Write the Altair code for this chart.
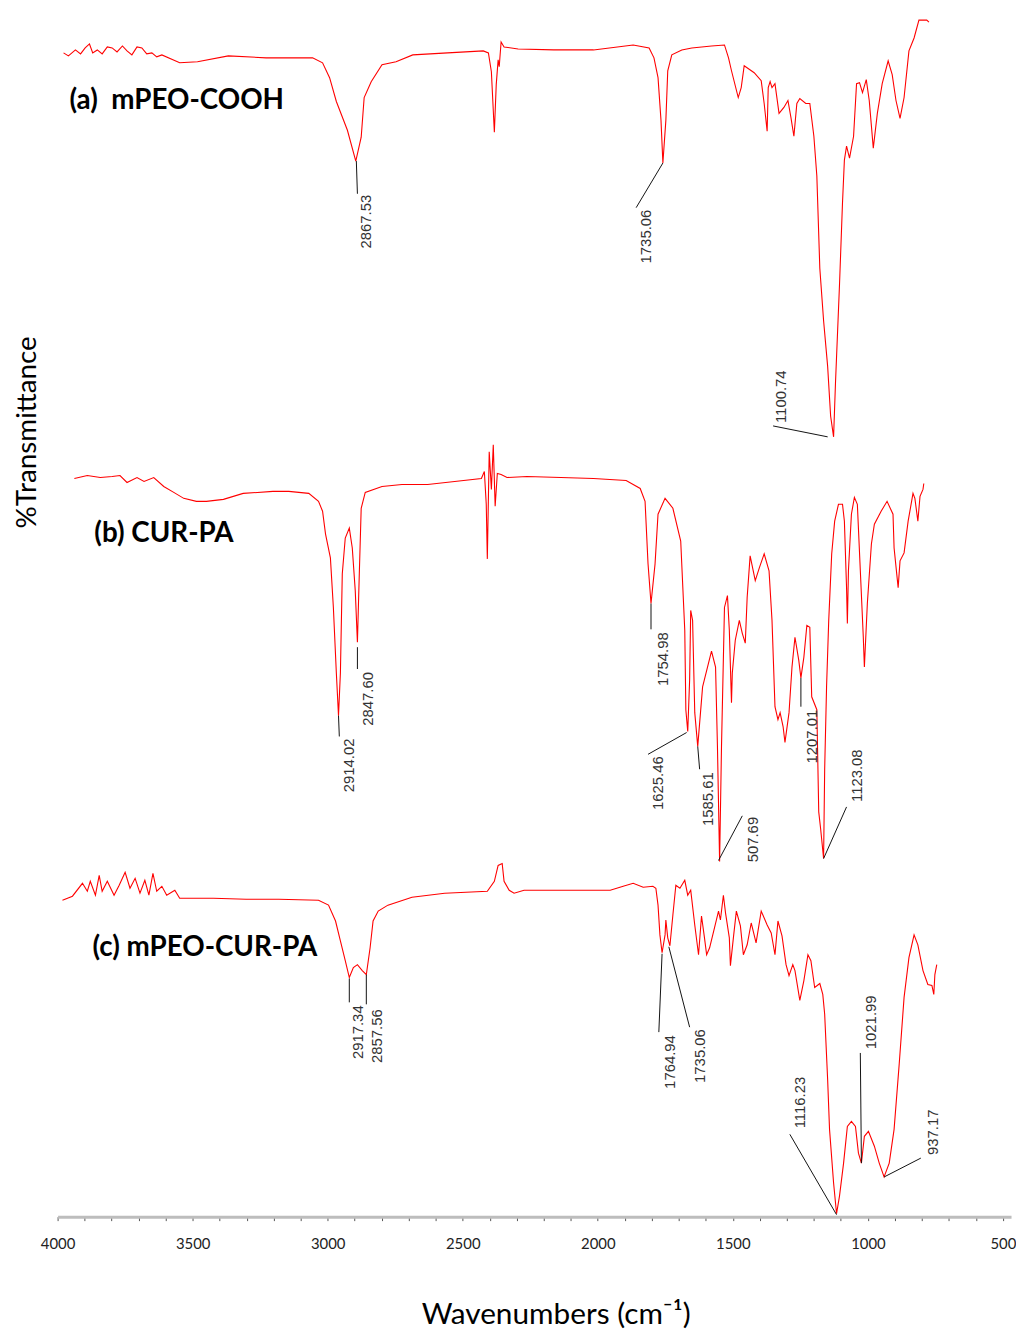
import altair as alt
import pandas as pd

# ---- spectrum (a) mPEO-COOH ----
A_WN = [3978, 3960, 3934, 3915, 3898, 3882, 3870, 3853, 3835, 3816, 3798, 3780, 3760, 3743, 3725, 3706, 3688, 3670, 3651, 3633,
        3614, 3548, 3482, 3368, 3228, 3056, 3019, 2993, 2968, 2927, 2896, 2876,
        2865, 2839, 2799, 2747, 2685, 2556, 2424, 2405, 2394, 2383, 2376, 2369, 2365, 2358, 2347, 2295, 2163, 2016, 1869, 1810,
        1792, 1777, 1766, 1759, 1748, 1741, 1726, 1689, 1652, 1579, 1531, 1516, 1505, 1480, 1469, 1458, 1421, 1395, 1384, 1373,
        1369, 1362, 1355, 1344, 1329, 1311, 1296, 1285, 1274, 1263, 1252, 1230, 1215, 1200, 1189, 1178, 1164, 1149, 1138, 1127,
        1120, 1105, 1094, 1087, 1079, 1068, 1053, 1042, 1031, 1020, 1006, 995, 980, 965, 947, 925, 910, 896, 881, 866,
        848, 829, 811, 782, 774]
A_T = [117.3, 117.0, 117.6, 117.2, 117.8, 118.2, 117.3, 117.6, 117.2, 117.9, 117.8, 117.4, 118.0, 117.5, 117.1, 117.9, 117.8, 117.2, 117.3, 116.9,
       117.1, 116.3, 116.4, 117.0, 116.8, 116.8, 116.3, 114.8, 112.4, 109.5, 106.4, 108.8,
       112.8, 114.4, 116.1, 116.4, 117.1, 117.3, 117.5, 117.3, 115.4, 109.3, 114.1, 116.6, 115.9, 118.4, 117.9, 117.7, 117.6, 117.6, 118.1, 117.8,
       116.8, 114.8, 110.5, 106.2, 110.5, 115.5, 117.1, 117.6, 117.8, 118.0, 118.1, 116.8, 115.5, 112.8, 113.8, 116.0, 115.3, 114.5, 112.2, 109.4,
       113.8, 114.4, 113.8, 114.2, 111.2, 111.8, 112.5, 110.8, 108.9, 112.2, 112.7, 112.2, 112.2, 108.9, 104.9, 95.6, 90.3, 85.7, 80.7, 78.6,
       84.0, 94.0, 102.2, 106.5, 107.9, 106.7, 108.9, 114.2, 114.3, 113.3, 114.6, 112.5, 107.7, 111.2, 114.2, 116.5, 115.1, 112.5, 110.7, 112.8,
       117.5, 118.8, 120.6, 120.6, 120.4]

# ---- spectrum (b) CUR-PA ----
B_WN = [3938, 3890, 3842, 3798, 3769, 3743, 3706, 3680, 3644, 3607, 3570, 3533, 3486, 3449, 3386, 3313, 3203, 3144, 3070, 3034,
        3019, 3008, 2990, 2979, 2968, 2960, 2953, 2946, 2935, 2920, 2909, 2898, 2890, 2883, 2876, 2861, 2799, 2725, 2630, 2530,
        2431, 2420, 2413, 2409, 2402, 2394, 2387, 2380, 2372, 2358, 2336, 2262, 2137, 2016, 1895, 1843, 1825, 1814, 1803, 1788,
        1777, 1751, 1722, 1693, 1678, 1674, 1667, 1660, 1656, 1649, 1641, 1630, 1612, 1579, 1564, 1557, 1549, 1542, 1531, 1520,
        1513, 1505, 1502, 1491, 1476, 1465, 1454, 1447, 1436, 1417, 1402, 1384, 1366, 1355, 1344, 1333, 1325, 1314, 1307, 1292,
        1281, 1270, 1256, 1248, 1237, 1226, 1215, 1208, 1189, 1182, 1175, 1164, 1160, 1153, 1145, 1134, 1123, 1109, 1094, 1087,
        1079, 1076, 1072, 1061, 1050, 1039, 1028, 1017, 1013, 1002, 987, 976, 951, 929, 907, 903, 888, 881, 866, 851,
        833, 826, 815, 807, 796, 793]
B_T = [74.4, 74.7, 74.5, 74.6, 74.7, 74.0, 74.5, 74.1, 74.5, 73.6, 73.0, 72.4, 72.1, 72.1, 72.3, 72.9, 73.1, 73.1, 72.9, 72.1,
       71.1, 68.8, 66.4, 61.4, 54.8, 50.5, 54.8, 64.8, 68.4, 69.4, 67.4, 63.1, 57.9, 64.8, 71.4, 73.0, 73.6, 73.8, 73.8, 74.1,
       74.4, 75.1, 71.8, 66.3, 77.1, 73.3, 77.8, 71.6, 74.9, 74.8, 74.5, 74.6, 74.5, 74.4, 74.2, 73.4, 72.1, 65.8, 61.8, 65.8,
       70.8, 72.4, 71.4, 68.1, 59.1, 51.1, 48.9, 54.1, 61.1, 60.1, 50.8, 47.4, 53.4, 57.0, 55.4, 47.4, 35.8, 47.4, 61.4, 62.6,
       59.1, 51.8, 54.8, 58.1, 60.1, 58.8, 57.8, 62.4, 66.6, 64.1, 65.4, 66.8, 65.1, 60.1, 51.4, 50.1, 50.8, 49.4, 47.8, 50.8,
       55.4, 58.4, 56.1, 54.3, 56.4, 59.6, 59.4, 52.4, 51.1, 40.8, 39.1, 36.1, 45.1, 53.4, 60.1, 66.8, 70.1, 71.8, 71.8, 70.1,
       63.4, 59.8, 65.1, 70.8, 72.5, 71.8, 65.1, 58.4, 55.4, 61.8, 67.8, 69.8, 71.1, 72.1, 70.8, 67.4, 63.4, 66.1, 66.9, 70.1,
       72.9, 72.4, 70.1, 72.6, 73.3, 73.9]

# ---- spectrum (c) mPEO-CUR-PA ----
C_WN = [3982, 3945, 3908, 3890, 3879, 3860, 3846, 3835, 3816, 3791, 3772, 3750, 3732, 3713, 3695, 3677, 3662, 3647, 3633, 3614,
        3596, 3566, 3548, 3423, 3302, 3181, 3034, 2997, 2971, 2953, 2935, 2920, 2905, 2890, 2872, 2857, 2843, 2832, 2813, 2777,
        2688, 2567, 2409, 2383, 2369, 2354, 2347, 2328, 2310, 2273, 2200, 1954, 1906, 1869, 1832, 1796, 1785, 1777, 1770, 1762,
        1751, 1748, 1741, 1733, 1722, 1711, 1696, 1678, 1667, 1656, 1641, 1627, 1616, 1605, 1597, 1586, 1568, 1553, 1546, 1535,
        1527, 1513, 1509, 1498, 1487, 1472, 1461, 1447, 1432, 1414, 1395, 1373, 1358, 1344, 1333, 1318, 1303, 1292, 1278, 1270,
        1252, 1237, 1222, 1211, 1197, 1178, 1167, 1160, 1149, 1142, 1127, 1116, 1105, 1090, 1076, 1061, 1046, 1035, 1024, 1013,
        998, 976, 958, 940, 921, 903, 884, 866, 848, 829, 815, 796, 778, 763, 756, 752, 745]
C_T = [31.9, 32.3, 33.6, 32.8, 33.8, 32.4, 34.4, 32.8, 33.8, 32.4, 33.4, 34.7, 33.1, 34.1, 32.6, 33.9, 32.4, 34.6, 32.8, 33.3,
       32.4, 32.9, 32.1, 32.1, 32.0, 32.0, 31.9, 31.4, 29.8, 27.8, 25.8, 24.1, 25.1, 25.4, 24.8, 24.4, 27.1, 29.8, 30.8, 31.4,
       32.2, 32.6, 32.8, 33.8, 35.4, 35.6, 33.8, 32.9, 32.6, 32.9, 32.9, 32.9, 33.3, 33.6, 33.2, 33.3, 33.1, 31.4, 28.4, 26.6,
       28.4, 29.9, 28.1, 27.3, 30.4, 33.4, 33.1, 33.9, 32.4, 32.9, 29.4, 26.4, 30.3, 28.1, 26.4, 27.1, 29.1, 30.8, 29.9, 32.4,
       30.6, 28.1, 25.3, 28.1, 30.8, 29.3, 26.4, 27.4, 29.6, 27.6, 30.8, 29.4, 28.6, 26.4, 29.8, 28.3, 25.4, 24.3, 25.4, 24.8,
       21.8, 23.8, 26.4, 25.8, 23.1, 23.5, 22.4, 20.4, 13.8, 8.8, 3.4, 0.3, 2.1, 5.4, 9.1, 9.6, 9.1, 6.4, 5.4, 8.1,
       8.6, 7.1, 5.4, 4.0, 5.4, 8.8, 15.4, 22.1, 26.1, 28.4, 27.4, 24.8, 23.4, 23.3, 22.4, 24.4, 25.4]

# ---- peak annotations ----
ANN_LABEL = ["2867.53", "1735.06", "1100.74", "2914.02", "2847.60", "1754.98", "1625.46", "1585.61", "507.69",
             "1207.01", "1123.08", "2917.34", "2857.56", "1764.94", "1735.06", "1116.23", "1021.99", "937.17"]
PEAK_WN = [2894, 1759, 1149, 2960, 2890, 1803, 1671, 1630, 1553, 1248, 1164, 2920, 2857, 1762, 1737, 1116, 1024, 940]
PEAK_T = [106.4, 106.2, 78.6, 50.5, 57.4, 61.8, 48.8, 47.4, 35.9, 54.3, 36.1, 24.0, 24.4, 26.5, 27.2, 0.2, 5.4, 4.0]
LEAD_WN = [2890, 1858, 1351, 2957, 2890, 1803, 1814, 1623, 1465, 1248, 1079, 2920, 2857, 1774, 1660, 1289, 1028, 804]
LEAD_T = [103.1, 101.7, 79.7, 48.4, 55.2, 59.2, 46.6, 45.1, 40.4, 51.4, 41.3, 21.6, 21.4, 18.6, 19.1, 8.3, 16.5, 5.9]
TEXT_WN = [2857, 1821, 1322, 2920, 2850, 1759, 1777, 1590, 1425, 1208, 1042, 2887, 2817, 1733, 1623, 1252, 987, 760]
TEXT_T = [103.0, 101.5, 85.3, 48.2, 54.9, 58.9, 46.4, 44.8, 40.3, 51.1, 47.1, 21.3, 20.9, 18.3, 18.9, 14.1, 22.3, 10.8]

# ---- series labels ----
SERIES_LABEL = ["(a)\u00a0 mPEO-COOH", "(b) CUR-PA", "(c) mPEO-CUR-PA"]
LABEL_WN = [3956, 3864, 3871]
LABEL_T = [112.4, 68.8, 27.1]

rows = []
for name, wn, t in [("a", A_WN, A_T), ("b", B_WN, B_T), ("c", C_WN, C_T)]:
    for w, v in zip(wn, t):
        rows.append({"series": name, "wn": w, "t": v})
spec = pd.DataFrame(rows)

ann = pd.DataFrame({"label": ANN_LABEL, "pw": PEAK_WN, "pt": PEAK_T, "lw": LEAD_WN, "lt": LEAD_T,
                    "tw": TEXT_WN, "tt": TEXT_T})
lab = pd.DataFrame({"label": SERIES_LABEL, "w": LABEL_WN, "t": LABEL_T})

xscale = alt.Scale(domain=[470, 4000], reverse=True, nice=False, zero=False)
yscale = alt.Scale(domain=[0, 121.1], nice=False, zero=False)

xaxis = alt.Axis(values=list(range(500, 4001, 100)), format="d",
                 labelExpr="datum.value % 500 === 0 ? datum.label : ''",
                 grid=False, domainColor="#bdbdbd", domainWidth=3, tickColor="#555555",
                 tickSize=4, tickWidth=1, labelFont="Lato", labelFontSize=15, labelColor="#222222",
                 labelPadding=16, labelFlush=False, labelOverlap=False,
                 titleFont="Lato", titleFontSize=30, titleFontWeight="normal", titleColor="black",
                 titleX=502, titleY=99, titleBaseline="middle", titleAlign="center")
yaxis = alt.Axis(domain=False, ticks=False, labels=False, grid=False,
                 titleFont="Lato", titleFontSize=28, titleFontWeight="normal", titleColor="black",
                 titleAngle=270, titleX=-30, titleY=420, titleAlign="center", titleBaseline="middle")

XT = "Wavenumbers (cm\u207b\u00b9)"
YT = "%Transmittance"


def X(f):
    return alt.X(f, type="quantitative", scale=xscale, axis=xaxis, title=XT)


def Y(f):
    return alt.Y(f, type="quantitative", scale=yscale, axis=yaxis, title=YT)


lines = alt.Chart(spec).mark_line(color="#ff0000", strokeWidth=1.1).encode(
    x=X("wn"), y=Y("t"), detail="series:N")

leaders = alt.Chart(ann).mark_rule(color="#111111", strokeWidth=1).encode(
    x=X("pw"), y=Y("pt"), x2="lw:Q", y2="lt:Q")

peak_text = alt.Chart(ann).mark_text(angle=270, align="right", baseline="middle",
                                     font="Liberation Sans", fontSize=15, color="#333333").encode(
    x=X("tw"), y=Y("tt"), text="label:N")

series_text = alt.Chart(lab).mark_text(align="left", baseline="middle", font="Lato",
                                       fontWeight="bold", fontSize=28, color="black").encode(
    x=X("w"), y=Y("t"), text="label:N")

chart = alt.layer(lines, leaders, peak_text, series_text).properties(
    width=961, height=1211,
    autosize=alt.AutoSizeParams(type="none"),
    padding={"left": 50, "top": 2, "right": 5, "bottom": 110},
    background="white",
).configure_view(stroke=None)

chart.save("out.html", embed_options={"renderer": "svg", "actions": False})
